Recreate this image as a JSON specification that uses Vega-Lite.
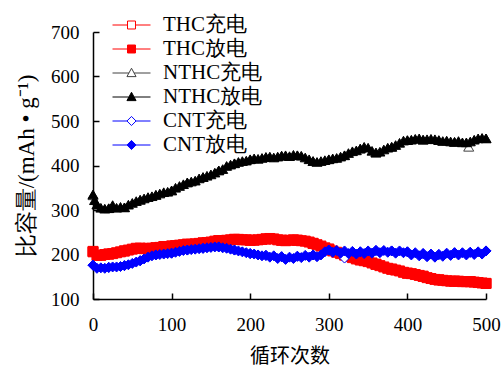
{
"$schema": "https://vega.github.io/schema/vega-lite/v6.json",
"width": 393, "height": 267,
"autosize": {"type": "none"},
"padding": {"left": 93, "top": 32, "right": 18, "bottom": 70},
"background": "white",
"config": {"view": {"stroke": null}, "font": "Liberation Serif", "axis": {"labelFont": "Liberation Serif"}},
"data": {"values": [
{"series":"THC充电","cycle":0,"capacity":206},{"series":"THC充电","cycle":20,"capacity":201},{"series":"THC充电","cycle":40,"capacity":208},{"series":"THC充电","cycle":60,"capacity":214},{"series":"THC充电","cycle":80,"capacity":215},{"series":"THC充电","cycle":100,"capacity":219},{"series":"THC充电","cycle":120,"capacity":223},{"series":"THC充电","cycle":140,"capacity":226},{"series":"THC充电","cycle":160,"capacity":231},{"series":"THC充电","cycle":180,"capacity":234},{"series":"THC充电","cycle":200,"capacity":232},{"series":"THC充电","cycle":220,"capacity":235},{"series":"THC充电","cycle":240,"capacity":232},{"series":"THC充电","cycle":260,"capacity":232},{"series":"THC充电","cycle":280,"capacity":225},{"series":"THC充电","cycle":300,"capacity":212},{"series":"THC充电","cycle":320,"capacity":199},{"series":"THC充电","cycle":340,"capacity":188},{"series":"THC充电","cycle":360,"capacity":178},{"series":"THC充电","cycle":380,"capacity":167},{"series":"THC充电","cycle":400,"capacity":158},{"series":"THC充电","cycle":420,"capacity":151},{"series":"THC充电","cycle":440,"capacity":143},{"series":"THC充电","cycle":460,"capacity":140},{"series":"THC充电","cycle":480,"capacity":139},{"series":"THC充电","cycle":500,"capacity":135},
{"series":"THC放电","cycle":0,"capacity":207},{"series":"THC放电","cycle":5,"capacity":198},{"series":"THC放电","cycle":10,"capacity":198},{"series":"THC放电","cycle":15,"capacity":200},{"series":"THC放电","cycle":20,"capacity":201},{"series":"THC放电","cycle":25,"capacity":202},{"series":"THC放电","cycle":30,"capacity":204},{"series":"THC放电","cycle":35,"capacity":206},{"series":"THC放电","cycle":40,"capacity":208},{"series":"THC放电","cycle":45,"capacity":210},{"series":"THC放电","cycle":50,"capacity":212},{"series":"THC放电","cycle":55,"capacity":214},{"series":"THC放电","cycle":60,"capacity":214},{"series":"THC放电","cycle":65,"capacity":213},{"series":"THC放电","cycle":70,"capacity":214},{"series":"THC放电","cycle":75,"capacity":214},{"series":"THC放电","cycle":80,"capacity":215},{"series":"THC放电","cycle":85,"capacity":216},{"series":"THC放电","cycle":90,"capacity":218},{"series":"THC放电","cycle":95,"capacity":218},{"series":"THC放电","cycle":100,"capacity":219},{"series":"THC放电","cycle":105,"capacity":220},{"series":"THC放电","cycle":110,"capacity":221},{"series":"THC放电","cycle":115,"capacity":222},{"series":"THC放电","cycle":120,"capacity":223},{"series":"THC放电","cycle":125,"capacity":223},{"series":"THC放电","cycle":130,"capacity":224},{"series":"THC放电","cycle":135,"capacity":225},{"series":"THC放电","cycle":140,"capacity":226},{"series":"THC放电","cycle":145,"capacity":227},{"series":"THC放电","cycle":150,"capacity":228},{"series":"THC放电","cycle":155,"capacity":230},{"series":"THC放电","cycle":160,"capacity":231},{"series":"THC放电","cycle":165,"capacity":231},{"series":"THC放电","cycle":170,"capacity":232},{"series":"THC放电","cycle":175,"capacity":233},{"series":"THC放电","cycle":180,"capacity":234},{"series":"THC放电","cycle":185,"capacity":234},{"series":"THC放电","cycle":190,"capacity":233},{"series":"THC放电","cycle":195,"capacity":233},{"series":"THC放电","cycle":200,"capacity":232},{"series":"THC放电","cycle":205,"capacity":232},{"series":"THC放电","cycle":210,"capacity":233},{"series":"THC放电","cycle":215,"capacity":234},{"series":"THC放电","cycle":220,"capacity":235},{"series":"THC放电","cycle":225,"capacity":236},{"series":"THC放电","cycle":230,"capacity":235},{"series":"THC放电","cycle":235,"capacity":233},{"series":"THC放电","cycle":240,"capacity":232},{"series":"THC放电","cycle":245,"capacity":231},{"series":"THC放电","cycle":250,"capacity":232},{"series":"THC放电","cycle":255,"capacity":233},{"series":"THC放电","cycle":260,"capacity":232},{"series":"THC放电","cycle":265,"capacity":231},{"series":"THC放电","cycle":270,"capacity":230},{"series":"THC放电","cycle":275,"capacity":228},{"series":"THC放电","cycle":280,"capacity":225},{"series":"THC放电","cycle":285,"capacity":222},{"series":"THC放电","cycle":290,"capacity":219},{"series":"THC放电","cycle":295,"capacity":215},{"series":"THC放电","cycle":300,"capacity":212},{"series":"THC放电","cycle":305,"capacity":208},{"series":"THC放电","cycle":310,"capacity":205},{"series":"THC放电","cycle":315,"capacity":202},{"series":"THC放电","cycle":320,"capacity":199},{"series":"THC放电","cycle":325,"capacity":196},{"series":"THC放电","cycle":330,"capacity":193},{"series":"THC放电","cycle":335,"capacity":190},{"series":"THC放电","cycle":340,"capacity":188},{"series":"THC放电","cycle":345,"capacity":186},{"series":"THC放电","cycle":350,"capacity":184},{"series":"THC放电","cycle":355,"capacity":181},{"series":"THC放电","cycle":360,"capacity":178},{"series":"THC放电","cycle":365,"capacity":175},{"series":"THC放电","cycle":370,"capacity":172},{"series":"THC放电","cycle":375,"capacity":169},{"series":"THC放电","cycle":380,"capacity":167},{"series":"THC放电","cycle":385,"capacity":165},{"series":"THC放电","cycle":390,"capacity":163},{"series":"THC放电","cycle":395,"capacity":160},{"series":"THC放电","cycle":400,"capacity":158},{"series":"THC放电","cycle":405,"capacity":157},{"series":"THC放电","cycle":410,"capacity":155},{"series":"THC放电","cycle":415,"capacity":153},{"series":"THC放电","cycle":420,"capacity":151},{"series":"THC放电","cycle":425,"capacity":148},{"series":"THC放电","cycle":430,"capacity":146},{"series":"THC放电","cycle":435,"capacity":144},{"series":"THC放电","cycle":440,"capacity":143},{"series":"THC放电","cycle":445,"capacity":142},{"series":"THC放电","cycle":450,"capacity":141},{"series":"THC放电","cycle":455,"capacity":140},{"series":"THC放电","cycle":460,"capacity":140},{"series":"THC放电","cycle":465,"capacity":140},{"series":"THC放电","cycle":470,"capacity":139},{"series":"THC放电","cycle":475,"capacity":139},{"series":"THC放电","cycle":480,"capacity":139},{"series":"THC放电","cycle":485,"capacity":138},{"series":"THC放电","cycle":490,"capacity":137},{"series":"THC放电","cycle":495,"capacity":136},{"series":"THC放电","cycle":500,"capacity":135},
{"series":"NTHC充电","cycle":0,"capacity":333},{"series":"NTHC充电","cycle":20,"capacity":304},{"series":"NTHC充电","cycle":40,"capacity":306},{"series":"NTHC充电","cycle":60,"capacity":323},{"series":"NTHC充电","cycle":80,"capacity":334},{"series":"NTHC充电","cycle":100,"capacity":344},{"series":"NTHC充电","cycle":120,"capacity":362},{"series":"NTHC充电","cycle":140,"capacity":374},{"series":"NTHC充电","cycle":160,"capacity":389},{"series":"NTHC充电","cycle":180,"capacity":405},{"series":"NTHC充电","cycle":200,"capacity":414},{"series":"NTHC充电","cycle":220,"capacity":419},{"series":"NTHC充电","cycle":240,"capacity":422},{"series":"NTHC充电","cycle":260,"capacity":423},{"series":"NTHC充电","cycle":280,"capacity":410},{"series":"NTHC充电","cycle":300,"capacity":414},{"series":"NTHC充电","cycle":320,"capacity":423},{"series":"NTHC充电","cycle":340,"capacity":438},{"series":"NTHC充电","cycle":360,"capacity":429},{"series":"NTHC充电","cycle":380,"capacity":442},{"series":"NTHC充电","cycle":400,"capacity":457},{"series":"NTHC充电","cycle":420,"capacity":458},{"series":"NTHC充电","cycle":440,"capacity":457},{"series":"NTHC充电","cycle":460,"capacity":453},{"series":"NTHC充电","cycle":478,"capacity":442},{"series":"NTHC充电","cycle":500,"capacity":461},
{"series":"NTHC放电","cycle":0,"capacity":335},{"series":"NTHC放电","cycle":2,"capacity":322},{"series":"NTHC放电","cycle":5,"capacity":312},{"series":"NTHC放电","cycle":10,"capacity":305},{"series":"NTHC放电","cycle":15,"capacity":303},{"series":"NTHC放电","cycle":20,"capacity":304},{"series":"NTHC放电","cycle":25,"capacity":311},{"series":"NTHC放电","cycle":30,"capacity":305},{"series":"NTHC放电","cycle":35,"capacity":307},{"series":"NTHC放电","cycle":40,"capacity":306},{"series":"NTHC放电","cycle":45,"capacity":312},{"series":"NTHC放电","cycle":50,"capacity":316},{"series":"NTHC放电","cycle":55,"capacity":320},{"series":"NTHC放电","cycle":60,"capacity":323},{"series":"NTHC放电","cycle":65,"capacity":326},{"series":"NTHC放电","cycle":70,"capacity":329},{"series":"NTHC放电","cycle":75,"capacity":331},{"series":"NTHC放电","cycle":80,"capacity":334},{"series":"NTHC放电","cycle":85,"capacity":337},{"series":"NTHC放电","cycle":90,"capacity":340},{"series":"NTHC放电","cycle":95,"capacity":341},{"series":"NTHC放电","cycle":100,"capacity":344},{"series":"NTHC放电","cycle":105,"capacity":350},{"series":"NTHC放电","cycle":110,"capacity":354},{"series":"NTHC放电","cycle":115,"capacity":358},{"series":"NTHC放电","cycle":120,"capacity":362},{"series":"NTHC放电","cycle":125,"capacity":364},{"series":"NTHC放电","cycle":130,"capacity":366},{"series":"NTHC放电","cycle":135,"capacity":371},{"series":"NTHC放电","cycle":140,"capacity":374},{"series":"NTHC放电","cycle":145,"capacity":377},{"series":"NTHC放电","cycle":150,"capacity":380},{"series":"NTHC放电","cycle":155,"capacity":384},{"series":"NTHC放电","cycle":160,"capacity":389},{"series":"NTHC放电","cycle":165,"capacity":392},{"series":"NTHC放电","cycle":170,"capacity":399},{"series":"NTHC放电","cycle":175,"capacity":402},{"series":"NTHC放电","cycle":180,"capacity":405},{"series":"NTHC放电","cycle":185,"capacity":408},{"series":"NTHC放电","cycle":190,"capacity":410},{"series":"NTHC放电","cycle":195,"capacity":411},{"series":"NTHC放电","cycle":200,"capacity":414},{"series":"NTHC放电","cycle":205,"capacity":416},{"series":"NTHC放电","cycle":210,"capacity":415},{"series":"NTHC放电","cycle":215,"capacity":417},{"series":"NTHC放电","cycle":220,"capacity":419},{"series":"NTHC放电","cycle":225,"capacity":420},{"series":"NTHC放电","cycle":230,"capacity":418},{"series":"NTHC放电","cycle":235,"capacity":420},{"series":"NTHC放电","cycle":240,"capacity":422},{"series":"NTHC放电","cycle":245,"capacity":423},{"series":"NTHC放电","cycle":250,"capacity":421},{"series":"NTHC放电","cycle":255,"capacity":424},{"series":"NTHC放电","cycle":260,"capacity":423},{"series":"NTHC放电","cycle":265,"capacity":422},{"series":"NTHC放电","cycle":270,"capacity":418},{"series":"NTHC放电","cycle":275,"capacity":414},{"series":"NTHC放电","cycle":280,"capacity":410},{"series":"NTHC放电","cycle":285,"capacity":408},{"series":"NTHC放电","cycle":290,"capacity":410},{"series":"NTHC放电","cycle":295,"capacity":412},{"series":"NTHC放电","cycle":300,"capacity":414},{"series":"NTHC放电","cycle":305,"capacity":416},{"series":"NTHC放电","cycle":310,"capacity":417},{"series":"NTHC放电","cycle":315,"capacity":420},{"series":"NTHC放电","cycle":320,"capacity":423},{"series":"NTHC放电","cycle":325,"capacity":428},{"series":"NTHC放电","cycle":330,"capacity":432},{"series":"NTHC放电","cycle":335,"capacity":434},{"series":"NTHC放电","cycle":340,"capacity":438},{"series":"NTHC放电","cycle":345,"capacity":442},{"series":"NTHC放电","cycle":350,"capacity":440},{"series":"NTHC放电","cycle":355,"capacity":433},{"series":"NTHC放电","cycle":360,"capacity":429},{"series":"NTHC放电","cycle":365,"capacity":431},{"series":"NTHC放电","cycle":370,"capacity":436},{"series":"NTHC放电","cycle":375,"capacity":440},{"series":"NTHC放电","cycle":380,"capacity":442},{"series":"NTHC放电","cycle":385,"capacity":446},{"series":"NTHC放电","cycle":390,"capacity":451},{"series":"NTHC放电","cycle":395,"capacity":456},{"series":"NTHC放电","cycle":400,"capacity":457},{"series":"NTHC放电","cycle":405,"capacity":458},{"series":"NTHC放电","cycle":410,"capacity":460},{"series":"NTHC放电","cycle":415,"capacity":461},{"series":"NTHC放电","cycle":420,"capacity":458},{"series":"NTHC放电","cycle":425,"capacity":459},{"series":"NTHC放电","cycle":430,"capacity":460},{"series":"NTHC放电","cycle":435,"capacity":459},{"series":"NTHC放电","cycle":440,"capacity":457},{"series":"NTHC放电","cycle":445,"capacity":455},{"series":"NTHC放电","cycle":450,"capacity":456},{"series":"NTHC放电","cycle":455,"capacity":454},{"series":"NTHC放电","cycle":460,"capacity":453},{"series":"NTHC放电","cycle":465,"capacity":455},{"series":"NTHC放电","cycle":470,"capacity":452},{"series":"NTHC放电","cycle":475,"capacity":452},{"series":"NTHC放电","cycle":480,"capacity":454},{"series":"NTHC放电","cycle":485,"capacity":458},{"series":"NTHC放电","cycle":490,"capacity":461},{"series":"NTHC放电","cycle":495,"capacity":462},{"series":"NTHC放电","cycle":500,"capacity":461},
{"series":"CNT充电","cycle":0,"capacity":176},{"series":"CNT充电","cycle":20,"capacity":171},{"series":"CNT充电","cycle":40,"capacity":175},{"series":"CNT充电","cycle":60,"capacity":186},{"series":"CNT充电","cycle":80,"capacity":199},{"series":"CNT充电","cycle":100,"capacity":203},{"series":"CNT充电","cycle":120,"capacity":210},{"series":"CNT充电","cycle":140,"capacity":214},{"series":"CNT充电","cycle":160,"capacity":217},{"series":"CNT充电","cycle":180,"capacity":210},{"series":"CNT充电","cycle":200,"capacity":202},{"series":"CNT充电","cycle":220,"capacity":198},{"series":"CNT充电","cycle":240,"capacity":195},{"series":"CNT充电","cycle":260,"capacity":196},{"series":"CNT充电","cycle":280,"capacity":199},{"series":"CNT充电","cycle":300,"capacity":210},{"series":"CNT充电","cycle":320,"capacity":192},{"series":"CNT充电","cycle":340,"capacity":206},{"series":"CNT充电","cycle":360,"capacity":209},{"series":"CNT充电","cycle":380,"capacity":208},{"series":"CNT充电","cycle":400,"capacity":206},{"series":"CNT充电","cycle":420,"capacity":202},{"series":"CNT充电","cycle":440,"capacity":200},{"series":"CNT充电","cycle":460,"capacity":204},{"series":"CNT充电","cycle":480,"capacity":205},{"series":"CNT充电","cycle":500,"capacity":208},
{"series":"CNT放电","cycle":0,"capacity":176},{"series":"CNT放电","cycle":5,"capacity":169},{"series":"CNT放电","cycle":10,"capacity":170},{"series":"CNT放电","cycle":15,"capacity":169},{"series":"CNT放电","cycle":20,"capacity":171},{"series":"CNT放电","cycle":25,"capacity":172},{"series":"CNT放电","cycle":30,"capacity":172},{"series":"CNT放电","cycle":35,"capacity":173},{"series":"CNT放电","cycle":40,"capacity":175},{"series":"CNT放电","cycle":45,"capacity":177},{"series":"CNT放电","cycle":50,"capacity":180},{"series":"CNT放电","cycle":55,"capacity":183},{"series":"CNT放电","cycle":60,"capacity":186},{"series":"CNT放电","cycle":65,"capacity":190},{"series":"CNT放电","cycle":70,"capacity":194},{"series":"CNT放电","cycle":75,"capacity":197},{"series":"CNT放电","cycle":80,"capacity":199},{"series":"CNT放电","cycle":85,"capacity":200},{"series":"CNT放电","cycle":90,"capacity":201},{"series":"CNT放电","cycle":95,"capacity":202},{"series":"CNT放电","cycle":100,"capacity":203},{"series":"CNT放电","cycle":105,"capacity":205},{"series":"CNT放电","cycle":110,"capacity":207},{"series":"CNT放电","cycle":115,"capacity":209},{"series":"CNT放电","cycle":120,"capacity":210},{"series":"CNT放电","cycle":125,"capacity":211},{"series":"CNT放电","cycle":130,"capacity":212},{"series":"CNT放电","cycle":135,"capacity":213},{"series":"CNT放电","cycle":140,"capacity":214},{"series":"CNT放电","cycle":145,"capacity":215},{"series":"CNT放电","cycle":150,"capacity":216},{"series":"CNT放电","cycle":155,"capacity":217},{"series":"CNT放电","cycle":160,"capacity":217},{"series":"CNT放电","cycle":165,"capacity":215},{"series":"CNT放电","cycle":170,"capacity":214},{"series":"CNT放电","cycle":175,"capacity":212},{"series":"CNT放电","cycle":180,"capacity":210},{"series":"CNT放电","cycle":185,"capacity":208},{"series":"CNT放电","cycle":190,"capacity":206},{"series":"CNT放电","cycle":195,"capacity":204},{"series":"CNT放电","cycle":200,"capacity":202},{"series":"CNT放电","cycle":205,"capacity":201},{"series":"CNT放电","cycle":210,"capacity":199},{"series":"CNT放电","cycle":215,"capacity":197},{"series":"CNT放电","cycle":220,"capacity":198},{"series":"CNT放电","cycle":225,"capacity":194},{"series":"CNT放电","cycle":230,"capacity":197},{"series":"CNT放电","cycle":235,"capacity":191},{"series":"CNT放电","cycle":240,"capacity":195},{"series":"CNT放电","cycle":245,"capacity":189},{"series":"CNT放电","cycle":250,"capacity":194},{"series":"CNT放电","cycle":255,"capacity":191},{"series":"CNT放电","cycle":260,"capacity":196},{"series":"CNT放电","cycle":265,"capacity":193},{"series":"CNT放电","cycle":270,"capacity":198},{"series":"CNT放电","cycle":275,"capacity":194},{"series":"CNT放电","cycle":280,"capacity":199},{"series":"CNT放电","cycle":285,"capacity":195},{"series":"CNT放电","cycle":290,"capacity":199},{"series":"CNT放电","cycle":295,"capacity":206},{"series":"CNT放电","cycle":300,"capacity":210},{"series":"CNT放电","cycle":305,"capacity":205},{"series":"CNT放电","cycle":310,"capacity":209},{"series":"CNT放电","cycle":315,"capacity":203},{"series":"CNT放电","cycle":320,"capacity":208},{"series":"CNT放电","cycle":325,"capacity":202},{"series":"CNT放电","cycle":330,"capacity":207},{"series":"CNT放电","cycle":335,"capacity":201},{"series":"CNT放电","cycle":340,"capacity":206},{"series":"CNT放电","cycle":345,"capacity":202},{"series":"CNT放电","cycle":350,"capacity":208},{"series":"CNT放电","cycle":355,"capacity":203},{"series":"CNT放电","cycle":360,"capacity":209},{"series":"CNT放电","cycle":365,"capacity":204},{"series":"CNT放电","cycle":370,"capacity":209},{"series":"CNT放电","cycle":375,"capacity":205},{"series":"CNT放电","cycle":380,"capacity":208},{"series":"CNT放电","cycle":385,"capacity":203},{"series":"CNT放电","cycle":390,"capacity":208},{"series":"CNT放电","cycle":395,"capacity":204},{"series":"CNT放电","cycle":400,"capacity":206},{"series":"CNT放电","cycle":405,"capacity":199},{"series":"CNT放电","cycle":410,"capacity":204},{"series":"CNT放电","cycle":415,"capacity":197},{"series":"CNT放电","cycle":420,"capacity":202},{"series":"CNT放电","cycle":425,"capacity":195},{"series":"CNT放电","cycle":430,"capacity":201},{"series":"CNT放电","cycle":435,"capacity":194},{"series":"CNT放电","cycle":440,"capacity":200},{"series":"CNT放电","cycle":445,"capacity":196},{"series":"CNT放电","cycle":450,"capacity":203},{"series":"CNT放电","cycle":455,"capacity":198},{"series":"CNT放电","cycle":460,"capacity":204},{"series":"CNT放电","cycle":465,"capacity":199},{"series":"CNT放电","cycle":470,"capacity":204},{"series":"CNT放电","cycle":475,"capacity":199},{"series":"CNT放电","cycle":480,"capacity":205},{"series":"CNT放电","cycle":485,"capacity":200},{"series":"CNT放电","cycle":490,"capacity":206},{"series":"CNT放电","cycle":495,"capacity":201},{"series":"CNT放电","cycle":500,"capacity":208}
]},
"encoding": {
  "x": {"field": "cycle", "type": "quantitative",
    "scale": {"domain": [0, 500], "nice": false},
    "axis": {"title": "循环次数", "values": [0,100,200,300,400,500], "grid": false,
      "domainColor": "black", "domainWidth": 1.5, "tickColor": "black", "tickWidth": 1.5, "tickSize": -6,
      "labelFont": "Liberation Serif", "labelFontSize": 19, "labelColor": "black", "labelPadding": 22, "labelFlush": false,
      "titleFont": "Noto Sans CJK SC", "titleFontSize": 20, "titleFontWeight": "normal", "titleColor": "black", "titlePadding": 12}},
  "y": {"field": "capacity", "type": "quantitative",
    "scale": {"domain": [100, 700], "nice": false},
    "axis": {"title": "比容量/(mAh • g⁻¹)", "values": [100,200,300,400,500,600,700], "grid": false,
      "domainColor": "black", "domainWidth": 1.5, "tickColor": "black", "tickWidth": 1.5, "tickSize": -6,
      "labelFont": "Liberation Serif", "labelFontSize": 19, "labelColor": "black", "labelPadding": 20,
      "titleFont": "Liberation Serif", "titleFontSize": 23, "titleFontWeight": "normal", "titleColor": "black", "titlePadding": 12}}
},
"layer": [
  {
    "mark": {"type": "point", "filled": true, "opacity": 1, "strokeWidth": 1},
    "encoding": {
      "shape": {"field": "series", "type": "nominal", "legend": null,
        "scale": {"domain": ["THC充电","THC放电","NTHC充电","NTHC放电","CNT充电","CNT放电"],
                  "range": ["square","square","triangle-up","triangle-up","diamond","diamond"]}},
      "stroke": {"field": "series", "type": "nominal", "legend": null,
        "scale": {"domain": ["THC充电","THC放电","NTHC充电","NTHC放电","CNT充电","CNT放电"],
                  "range": ["#ff0000","#ff0000","#404040","#000000","#0000ff","#0000ff"]}},
      "fill": {"field": "series", "type": "nominal", "legend": null,
        "scale": {"domain": ["THC充电","THC放电","NTHC充电","NTHC放电","CNT充电","CNT放电"],
                  "range": ["#ffffff","#ff0000","#ffffff","#000000","#ffffff","#0000ff"]}},
      "size": {"value": 100}
    }
  },
  {
    "transform": [{"filter": "datum.cycle < 0"}],
    "mark": {"type": "point", "filled": true, "opacity": 1, "strokeWidth": 1},
    "encoding": {
      "shape": {"field": "series", "type": "nominal",
        "scale": {"domain": ["THC充电","THC放电","NTHC充电","NTHC放电","CNT充电","CNT放电"],
                  "range": ["M-1,0H-0.21M0.21,0H1M-0.21,-0.21H0.21V0.21H-0.21Z","M-1,0H-0.21M0.21,0H1M-0.21,-0.21H0.21V0.21H-0.21Z","M-1,0H-0.14M0.14,0H1M0,-0.25L0.24,0.19H-0.24Z","M-1,0H-0.14M0.14,0H1M0,-0.25L0.24,0.19H-0.24Z","M-1,0H-0.24M0.24,0H1M0,-0.24L0.24,0L0,0.24L-0.24,0Z","M-1,0H-0.24M0.24,0H1M0,-0.24L0.24,0L0,0.24L-0.24,0Z"]},
        "legend": {"title": null, "orient": "none", "legendX": 19, "legendY": -19, "padding": 0,
          "symbolSize": 1444, "clipHeight": 24, "rowPadding": 0, "labelOffset": 12,
          "labelFont": "Liberation Serif", "labelFontSize": 21, "labelColor": "black", "labelLimit": 0,
          "symbolStrokeWidth": 1}},
      "stroke": {"field": "series", "type": "nominal",
        "scale": {"domain": ["THC充电","THC放电","NTHC充电","NTHC放电","CNT充电","CNT放电"],
                  "range": ["#ff0000","#ff0000","#404040","#000000","#0000ff","#0000ff"]}},
      "fill": {"field": "series", "type": "nominal",
        "scale": {"domain": ["THC充电","THC放电","NTHC充电","NTHC放电","CNT充电","CNT放电"],
                  "range": ["#ffffff","#ff0000","#ffffff","#000000","#ffffff","#0000ff"]}},
      "size": {"value": 1444}
    }
  }
],
"resolve": {"scale": {"shape": "independent", "stroke": "independent", "fill": "independent"}}
}
